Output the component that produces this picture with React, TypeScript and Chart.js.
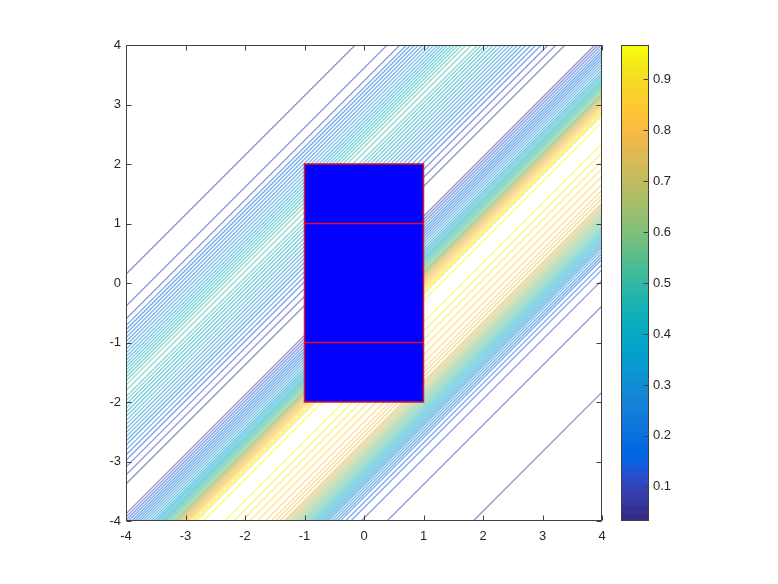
import React, { useEffect, useRef } from "react";
import { Chart, registerables } from "chart.js";

Chart.register(...registerables);

// ---------- data ----------
const xTicks = [-4, -3, -2, -1, 0, 1, 2, 3, 4];
const yTicks = [-4, -3, -2, -1, 0, 1, 2, 3, 4];
const colorbarTicks = [0.1, 0.2, 0.3, 0.4, 0.5, 0.6, 0.7, 0.8, 0.9];
const colorMin = 0.033;
const colorMax = 0.967;
const levelCount = 40;

// Cross-section of the field across the diagonal stripes, offset c = y - x
const profileC = [6.0, 4.6, 4.13, 3.6, 3.39, 3.28, 3.0, 2.75, 2.55, 2.4, 2.25, 2.1, 1.9, 1.6, 1.3, 1.05, 0.85, 0.62, 0.38, 0.12, -0.1, -0.3, -0.45, -0.6, -0.8, -0.9, -1.05, -1.2, -1.45, -1.7, -2.0, -2.4, -2.65, -2.9, -3.15, -3.4, -3.6, -3.77, -3.94, -4.36, -5.79, -7.0];
const profileF = [0.035, 0.045, 0.0562, 0.079, 0.102, 0.125, 0.22, 0.31, 0.39, 0.45, 0.5, 0.47, 0.4, 0.3, 0.2, 0.13, 0.09, 0.0555, 0.034, 0.0555, 0.15, 0.25, 0.32, 0.42, 0.58, 0.7, 0.84, 0.93, 0.967, 0.94, 0.89, 0.82, 0.74, 0.58, 0.42, 0.26, 0.17, 0.125, 0.102, 0.079, 0.0562, 0.045];

// Blue rectangle and its red dividers
const rectX = [-1, 1];
const rectY = [-2, 2];
const dividerY = [1, -1];

// parula colormap (64 entries)
const PARULA = [
  [0.2081, 0.1663, 0.5292], [0.2116, 0.1898, 0.5777], [0.2123, 0.2138, 0.627], [0.2081, 0.2386, 0.6771],
  [0.1959, 0.2645, 0.7279], [0.1707, 0.2919, 0.7792], [0.1253, 0.3242, 0.8303], [0.0591, 0.3598, 0.8683],
  [0.0117, 0.3875, 0.882], [0.006, 0.4086, 0.8828], [0.0165, 0.4266, 0.8786], [0.0329, 0.443, 0.872],
  [0.0498, 0.4586, 0.8641], [0.0629, 0.4737, 0.8554], [0.0723, 0.4887, 0.8467], [0.0779, 0.504, 0.8384],
  [0.0793, 0.52, 0.8312], [0.0749, 0.5375, 0.8263], [0.0641, 0.557, 0.824], [0.0488, 0.5772, 0.8228],
  [0.0343, 0.5966, 0.8199], [0.0265, 0.6137, 0.8135], [0.0239, 0.6287, 0.8038], [0.0231, 0.6418, 0.7913],
  [0.0228, 0.6535, 0.7768], [0.0267, 0.6642, 0.7607], [0.0384, 0.6743, 0.7436], [0.059, 0.6838, 0.7254],
  [0.0843, 0.6928, 0.7062], [0.1133, 0.7015, 0.6859], [0.1453, 0.7098, 0.6646], [0.1801, 0.7177, 0.6424],
  [0.2178, 0.725, 0.6193], [0.2586, 0.7317, 0.5954], [0.3022, 0.7376, 0.5712], [0.3482, 0.7424, 0.5473],
  [0.3953, 0.7459, 0.5244], [0.442, 0.7481, 0.5033], [0.4871, 0.7491, 0.484], [0.53, 0.7491, 0.4661],
  [0.5709, 0.7485, 0.4494], [0.6099, 0.7473, 0.4337], [0.6473, 0.7456, 0.4188], [0.6834, 0.7435, 0.4044],
  [0.7184, 0.7411, 0.3905], [0.7525, 0.7384, 0.3768], [0.7858, 0.7356, 0.3633], [0.8185, 0.7327, 0.3498],
  [0.8507, 0.7299, 0.336], [0.8824, 0.7274, 0.3217], [0.9139, 0.7258, 0.3063], [0.945, 0.7261, 0.2886],
  [0.9739, 0.7314, 0.2666], [0.9938, 0.7455, 0.2403], [0.999, 0.7653, 0.2164], [0.9955, 0.7861, 0.1967],
  [0.988, 0.8066, 0.1794], [0.9789, 0.8271, 0.1633], [0.9697, 0.8481, 0.1475], [0.9626, 0.8705, 0.1309],
  [0.9589, 0.8949, 0.1132], [0.9598, 0.9218, 0.0948], [0.9661, 0.9514, 0.0755], [0.9763, 0.9831, 0.0538],
];

const FONT = { family: "'Liberation Sans', Arial, sans-serif", size: 13 };
const TEXT = "#262626";
const AXIS = "#404040";
const RED = "#dc1028";
const BLUE = "#0202fc";

function rgb(c: number[], a = 1) {
  return `rgba(${Math.round(c[0] * 255)},${Math.round(c[1] * 255)},${Math.round(c[2] * 255)},${a})`;
}
function levelColor(v: number) {
  const idx = Math.min(63, Math.max(0, Math.floor(((v - colorMin) / (colorMax - colorMin)) * 64) + 1));
  return rgb(PARULA[idx], 0.55);
}

function contourLevels() {
  const out: number[] = [];
  for (let i = 1; i <= levelCount; i++) out.push(colorMin + (i * (colorMax - colorMin)) / (levelCount + 1));
  return out;
}

function contourLines() {
  const levels = contourLevels();
  const out: { c: number; level: number }[] = [];
  for (let i = 0; i < profileC.length - 1; i++) {
    const c0 = profileC[i], c1 = profileC[i + 1];
    const f0 = profileF[i], f1 = profileF[i + 1];
    for (const L of levels) {
      if ((f0 - L) * (f1 - L) < 0) {
        const t = (L - f0) / (f1 - f0);
        out.push({ c: c0 + t * (c1 - c0), level: L });
      }
    }
  }
  return out;
}

// Rectangle patch with red mesh lines, placed through the chart's scales
const rectPlugin = {
  id: "rectPatch",
  afterDatasetsDraw(chart: any) {
    const { ctx } = chart;
    const xs = chart.scales.x, ys = chart.scales.y;
    const l = xs.getPixelForValue(rectX[0]);
    const r = xs.getPixelForValue(rectX[1]);
    const t = ys.getPixelForValue(rectY[1]);
    const b = ys.getPixelForValue(rectY[0]);
    ctx.save();
    ctx.fillStyle = BLUE;
    ctx.fillRect(l, t, r - l, b - t);
    ctx.strokeStyle = RED;
    ctx.lineWidth = 1.5;
    ctx.strokeRect(l, t, r - l, b - t);
    ctx.beginPath();
    for (const yv of dividerY) {
      const py = ys.getPixelForValue(yv);
      ctx.moveTo(l, py);
      ctx.lineTo(r, py);
    }
    ctx.stroke();
    ctx.restore();
  },
};

const boxPlugin = (xs: number[], ys: number[], sides: string) => ({
  id: "boxTicks",
  afterDatasetsDraw(chart: any) {
    const { ctx, chartArea } = chart;
    const l = Math.round(chartArea.left) + 0.5;
    const r = Math.round(chartArea.right) - 0.5;
    const t = Math.round(chartArea.top) + 0.5;
    const b = Math.round(chartArea.bottom) - 0.5;
    ctx.save();
    ctx.strokeStyle = AXIS;
    ctx.lineWidth = 1;
    ctx.strokeRect(l, t, r - l, b - t);
    const len = 5;
    ctx.beginPath();
    if (sides.includes("x")) {
      for (const v of xs) {
        const px = Math.round(chart.scales.x.getPixelForValue(v)) + 0.5;
        ctx.moveTo(px, b); ctx.lineTo(px, b - len);
        ctx.moveTo(px, t); ctx.lineTo(px, t + len);
      }
    }
    const yScale = chart.scales.y;
    for (const v of ys) {
      const py = Math.round(yScale.getPixelForValue(v)) + 0.5;
      if (sides.includes("l")) { ctx.moveTo(l, py); ctx.lineTo(l + len, py); }
      if (sides.includes("r")) { ctx.moveTo(r, py); ctx.lineTo(r - len, py); }
    }
    ctx.stroke();
    ctx.restore();
  },
});

function MainChart() {
  const ref = useRef<HTMLCanvasElement>(null);
  useEffect(() => {
    if (!ref.current) return;
    const xMin = xTicks[0], xMax = xTicks[xTicks.length - 1];
    const yMin = yTicks[0], yMax = yTicks[yTicks.length - 1];
    const datasets: any[] = [];
    for (const line of contourLines()) {
      const x0 = Math.max(xMin, yMin - line.c);
      const x1 = Math.min(xMax, yMax - line.c);
      if (x0 >= x1) continue;
      datasets.push({
        type: "line",
        data: [{ x: x0, y: x0 + line.c }, { x: x1, y: x1 + line.c }],
        borderColor: levelColor(line.level),
        borderWidth: 1.3,
        pointRadius: 0,
        fill: false,
      });
    }
    const chart = new Chart(ref.current, {
      type: "line",
      data: { datasets },
      options: {
        responsive: false,
        animation: false,
        events: [],
        layout: { padding: { left: 0, top: 45, right: 176, bottom: 0 } },
        plugins: { legend: { display: false }, tooltip: { enabled: false } },
        scales: {
          x: {
            type: "linear",
            position: "bottom",
            min: xMin,
            max: xMax,
            grid: { display: false, drawTicks: false },
            border: { display: false },
            afterBuildTicks: (s: any) => { s.ticks = xTicks.map((v) => ({ value: v })); },
            afterFit: (s: any) => { s.height = 63; },
            ticks: { font: FONT, color: TEXT, padding: 8, maxRotation: 0, autoSkip: false, callback: (v: any) => String(v) },
          },
          y: {
            type: "linear",
            position: "left",
            min: yMin,
            max: yMax,
            grid: { display: false, drawTicks: false },
            border: { display: false },
            afterBuildTicks: (s: any) => { s.ticks = yTicks.map((v) => ({ value: v })); },
            afterFit: (s: any) => { s.width = 126; },
            ticks: { font: FONT, color: TEXT, padding: 5, autoSkip: false, callback: (v: any) => String(v) },
          },
        },
      } as any,
      plugins: [rectPlugin, boxPlugin(xTicks, yTicks, "xlr")],
    });
    return () => chart.destroy();
  }, []);
  return <canvas ref={ref} width={778} height={584} style={{ position: "absolute", left: 0, top: 0 }} />;
}

function ColorbarChart() {
  const ref = useRef<HTMLCanvasElement>(null);
  useEffect(() => {
    if (!ref.current) return;
    const n = PARULA.length;
    const step = (colorMax - colorMin) / n;
    const datasets = PARULA.map((c, i) => ({
      data: [[colorMin + i * step, colorMin + (i + 1) * step]],
      backgroundColor: rgb(c),
      borderWidth: 0,
      barPercentage: 1,
      categoryPercentage: 1,
    }));
    const chart = new Chart(ref.current, {
      type: "bar",
      data: { labels: ["cb"], datasets },
      options: {
        responsive: false,
        animation: false,
        events: [],
        layout: { padding: { left: 21, top: 45, right: 0, bottom: 63 } },
        plugins: { legend: { display: false }, tooltip: { enabled: false } },
        scales: {
          x: { type: "category", stacked: true, display: false },
          y: {
            type: "linear",
            position: "right",
            min: colorMin,
            max: colorMax,
            stacked: false,
            grid: { display: false, drawTicks: false },
            border: { display: false },
            afterBuildTicks: (s: any) => { s.ticks = colorbarTicks.map((v) => ({ value: v })); },
            afterFit: (s: any) => { s.width = 129; },
            ticks: { font: FONT, color: TEXT, padding: 4, autoSkip: false, callback: (v: any) => (Math.round(v * 10) / 10).toFixed(1) },
          },
        },
      } as any,
      plugins: [boxPlugin([], colorbarTicks, "r")],
    });
    return () => chart.destroy();
  }, []);
  return <canvas ref={ref} width={178} height={584} style={{ position: "absolute", left: 600, top: 0 }} />;
}

export default function App() {
  return (
    <div style={{ position: "fixed", left: 0, top: 0, width: 778, height: 584, background: "#fff" }}>
      <MainChart />
      <ColorbarChart />
    </div>
  );
}
